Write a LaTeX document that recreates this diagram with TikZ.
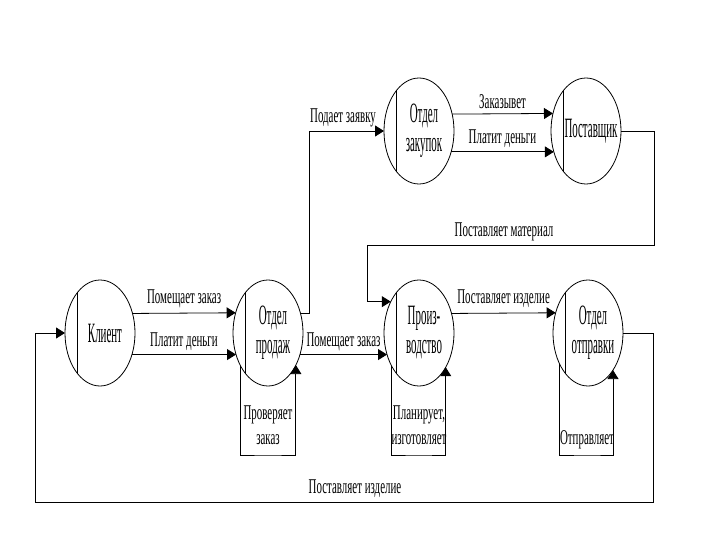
\documentclass[tikz,border=0pt]{standalone}
\usepackage{fontspec}
\setmainfont{Liberation Serif}
\newfontfamily\nodefnt[FakeStretch=0.39]{Liberation Serif}
\newfontfamily\lblfnt[FakeStretch=0.52]{Liberation Serif}
\usetikzlibrary{shapes.geometric,arrows.meta}
\begin{document}
\begin{tikzpicture}[x=1pt,y=-1pt,
  proc/.style={ellipse,draw,line width=0.8pt,minimum width=70pt,minimum height=106pt,inner sep=0pt,outer sep=0pt},
  ntext/.style={font=\nodefnt\fontsize{28}{29}\selectfont,align=center,inner sep=0pt,xshift=5pt},
  lbl/.style={font=\lblfnt\fontsize{21}{25}\selectfont,inner sep=0pt,align=center},
  conn/.style={line width=0.8pt},
  arr/.style={conn,-{Triangle[length=9pt,width=11pt]}}]
\useasboundingbox (0,0) rectangle (720,540);
% processes
\node[proc] (klient) at (100,333) {};
\node[proc] (prodazh) at (268,333) {};
\node[proc] (zakup) at (419,131) {};
\node[proc] (postav) at (586,131) {};
\node[proc] (proizv) at (419,333) {};
\node[proc] (otpr) at (588,333) {};
\foreach \n in {klient,prodazh,zakup,postav,proizv,otpr}
  \draw[conn] ([shift={(-23,-40)}]\n.center) -- ([shift={(-23,40)}]\n.center);
\node[ntext] (klientT) at (klient) {Клиент};
\node[ntext] (prodazhT) at (prodazh) {Отдел\\продаж};
\node[ntext] (zakupT) at (zakup) {Отдел\\закупок};
\node[ntext] (postavT) at (postav) {Поставщик};
\node[ntext] (proizvT) at (proizv) {Произ-\\водство};
\node[ntext] (otprT) at (otpr) {Отдел\\отправки};
% flows
\draw[arr] (klient.31.7) -- node[lbl,above=5pt]{Помещает заказ} (prodazh.148.3);
\draw[arr] (klient.-34.7) -- node[lbl,above=4pt]{Платит деньги} (prodazh.214.7);
\coordinate (c1) at (309,131);
\draw[arr] (prodazh.31.7) -| (c1) -- (zakup.west);
\node[lbl] (l1) at (343,118) {Подает заявку};
\draw[arr] (prodazh.-34.7) -- node[lbl,above=3pt]{Помещает заказ} (proizv.214.7);
\draw[arr] (zakup.27.1) -- node[lbl,above=5pt]{Заказывет} (postav.152.9);
\draw[arr] (zakup.-33.2) -- node[lbl,above=4pt]{Платит деньги} (postav.213.2);
\coordinate (c2) at (654,245);
\coordinate (c3) at (367,245);
\draw[arr] (postav.east) -| (c2) -- (c3) |- (proizv.132.5);
\node[lbl] (l2) at (504,232) {Поставляет материал};
\draw[arr] (proizv.31.7) -- node[lbl,above=5pt]{Поставляет изделие} (otpr.148.3);
% loops
\coordinate (pb) at (268,455);
\draw[arr] (prodazh.231.5) |- (pb) -| (prodazh.311.2);
\node[lbl] (l3) at (268,425) {Проверяет\\заказ};
\coordinate (rb) at (419,455);
\draw[arr] (proizv.231.5) |- (rb) -| (proizv.308.5);
\node[lbl] (l4) at (419,425) {Планирует,\\изготовляет};
\coordinate (ob) at (588,455);
\draw[arr] (otpr.228.8) |- (ob) -| (otpr.304.1);
\node[lbl] (l5) at (587,440) {Отправляет};
% return
\coordinate (br) at (653,502);
\coordinate (bl) at (35,502);
\draw[arr] (otpr.east) -| (br) -- (bl) |- (klient.west);
\node[lbl] (l6) at (355,489) {Поставляет изделие};
\end{tikzpicture}
\end{document}
